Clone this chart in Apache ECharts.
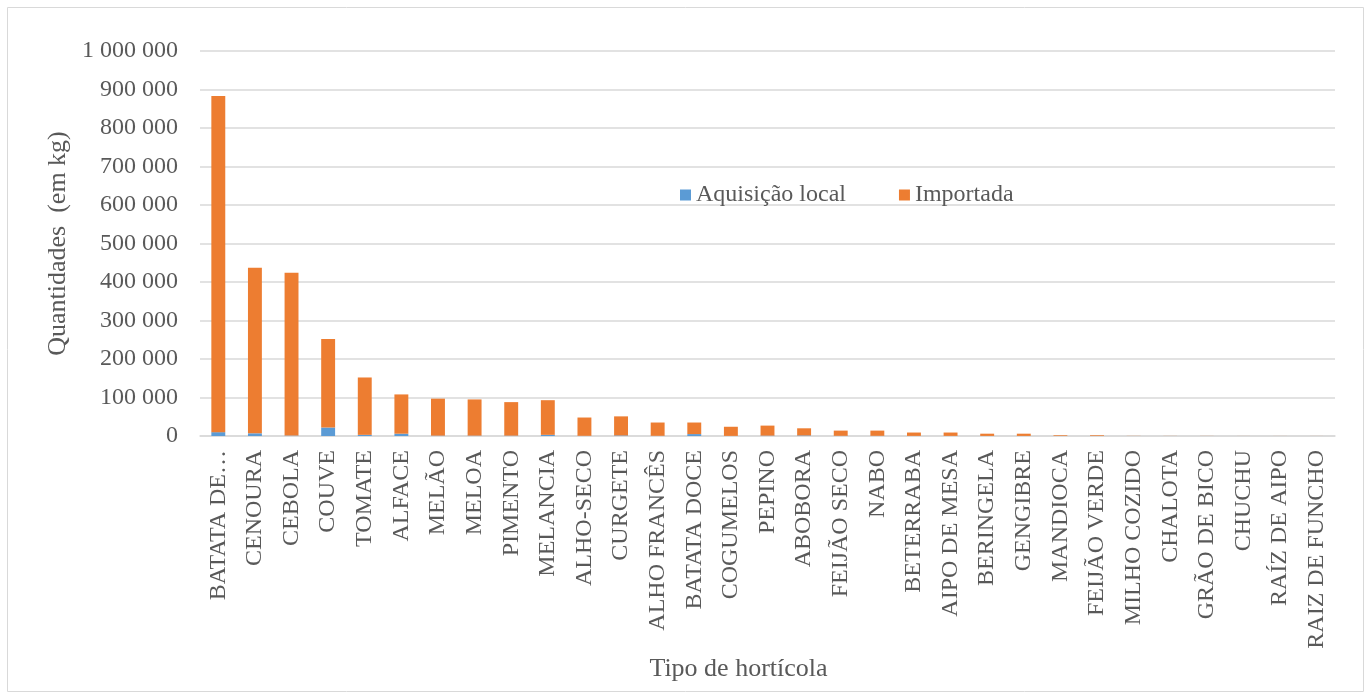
<!DOCTYPE html>
<html>
<head>
<meta charset="utf-8">
<script src="https://cdn.jsdelivr.net/npm/echarts@6/dist/echarts.min.js"></script>
<style>
html,body{margin:0;padding:0;background:#fff;}
#chart{width:1372px;height:700px;}
</style>
</head>
<body>
<div id="chart"></div>
<script>
const categories = ["BATATA DE…","CENOURA","CEBOLA","COUVE","TOMATE","ALFACE","MELÃO","MELOA","PIMENTO","MELANCIA","ALHO-SECO","CURGETE","ALHO FRANCÊS","BATATA DOCE","COGUMELOS","PEPINO","ABOBORA","FEIJÃO SECO","NABO","BETERRABA","AIPO DE MESA","BERINGELA","GENGIBRE","MANDIOCA","FEIJÃO VERDE","MILHO COZIDO","CHALOTA","GRÃO DE BICO","CHUCHU","RAÍZ DE AIPO","RAIZ DE FUNCHO"];
const aquisicaoLocal = [10000,7000,1000,22000,3000,6000,1000,1000,1000,3000,500,1500,500,5000,300,1000,1500,500,500,300,300,200,200,100,100,0,0,0,0,0,0];
const importada = [873000,430000,423000,230000,149000,102000,96000,94000,87000,90000,47500,49500,34500,30000,23700,26000,18500,13500,13500,8700,8700,5800,5800,1800,1800,300,200,200,100,100,100];
const yTicks = {min:0, max:1000000, interval:100000};

const textColor = '#595959';
const font = '"Liberation Serif","Times New Roman",serif';

const chart = echarts.init(document.getElementById('chart'));
chart.setOption({
  animation:false,
  textStyle:{fontFamily:font,color:textColor},
  graphic:[{type:'rect',shape:{x:7.5,y:7.5,width:1356,height:684},style:{fill:'none',stroke:'#D9D9D9',lineWidth:1}}],
  legend:{
    left:675, top:178, itemWidth:11, itemHeight:11, itemGap:53,
    icon:'rect',
    textStyle:{fontFamily:font,fontSize:24,color:textColor},
    data:['Aquisição local','Importada']
  },
  grid:{left:200,right:37,top:51,bottom:264},
  xAxis:{
    type:'category', data:categories,
    name:'Tipo de hortícola', nameLocation:'middle', nameGap:211,
    nameTextStyle:{fontFamily:font,fontSize:26,color:textColor,padding:[0,58,0,0]},
    axisLine:{lineStyle:{color:'#D9D9D9',width:1.5}},
    axisTick:{show:false},
    axisLabel:{rotate:90,interval:0,margin:14,fontFamily:font,fontSize:24,color:textColor}
  },
  yAxis:{
    type:'value', min:yTicks.min, max:yTicks.max, interval:yTicks.interval,
    name:'Quantidades  (em kg)', nameLocation:'middle', nameGap:125,
    nameTextStyle:{fontFamily:font,fontSize:26,color:textColor},
    axisLine:{show:false}, axisTick:{show:false},
    splitLine:{lineStyle:{color:'#D9D9D9',width:1.5}},
    axisLabel:{margin:22,fontFamily:font,fontSize:24,color:textColor,
      formatter:v=>String(v).replace(/\B(?=(\d{3})+(?!\d))/g,' ')}
  },
  series:[
    {name:'Aquisição local',type:'bar',stack:'t',data:aquisicaoLocal,barWidth:'38%',itemStyle:{color:'#5B9BD5'}},
    {name:'Importada',type:'bar',stack:'t',data:importada,barWidth:'38%',itemStyle:{color:'#ED7D31'}}
  ]
});
</script>
</body>
</html>
